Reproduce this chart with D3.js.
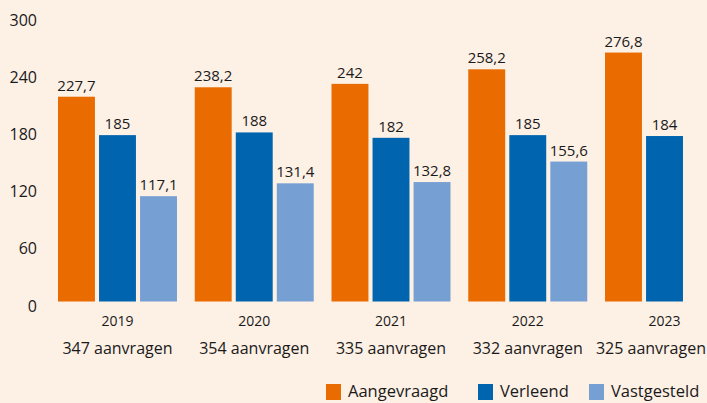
<!DOCTYPE html>
<html>
<head>
<meta charset="utf-8">
<script src="https://cdn.jsdelivr.net/npm/d3@7"></script>
<style>
  html, body { margin: 0; padding: 0; background: #fdf0e5; }
  svg { display: block; font-family: "Open Sans", sans-serif; }
</style>
</head>
<body>
<div id="chart"></div>
<script>
const WIDTH = 707;
const HEIGHT = 403;

const years = ['2019', '2020', '2021', '2022', '2023'];
const requests = ['347 aanvragen', '354 aanvragen', '335 aanvragen', '332 aanvragen', '325 aanvragen'];
const seriesNames = ['Aangevraagd', 'Verleend', 'Vastgesteld'];
const aangevraagd = [227.7, 238.2, 242, 258.2, 276.8];
const verleend = [185, 188, 182, 185, 184];
const vastgesteld = [117.1, 131.4, 132.8, 155.6, null];
const yTicks = [0, 60, 120, 180, 240, 300];

const colors = ['#ea6b00', '#0064af', '#769fd3'];
const seriesValues = [aangevraagd, verleend, vastgesteld];

const svg = d3.select('#chart').append('svg')
  .attr('width', WIDTH)
  .attr('height', HEIGHT);

const x = d3.scaleBand()
  .domain(years)
  .range([58, 724])
  .paddingInner(0.13)
  .paddingOuter(0);

const xInner = d3.scaleBand()
  .domain(seriesNames)
  .range([0, x.bandwidth()])
  .paddingInner(0.1);

const y = d3.scaleLinear()
  .domain([0, 300])
  .range([301.5, 31.7]);

// the tick labels sit on a slightly wider spacing than the bars
const yLabels = d3.scaleLinear()
  .domain([0, 300])
  .range([306, 20]);

const axis = svg.append('g')
  .attr('transform', 'translate(37, 0)')
  .call(d3.axisLeft(yLabels).tickValues(yTicks).tickSize(0).tickPadding(0));
axis.select('.domain').remove();
axis.selectAll('text')
  .attr('font-size', 16)
  .attr('font-family', '"Open Sans", sans-serif')
  .attr('fill', '#1a1a1a');

const bars = [];
years.forEach((year, i) => {
  seriesNames.forEach((name, s) => {
    const v = seriesValues[s][i];
    if (v !== null) bars.push({ year, name, s, v });
  });
});

const fmt = v => String(v).replace('.', ',');

const g = svg.append('g');

g.selectAll('rect')
  .data(bars)
  .join('rect')
  .attr('x', d => x(d.year) + xInner(d.name))
  .attr('y', d => y(d.v))
  .attr('width', xInner.bandwidth())
  .attr('height', d => y(0) - y(d.v))
  .attr('fill', d => colors[d.s]);

g.selectAll('text.value')
  .data(bars)
  .join('text')
  .attr('class', 'value')
  .attr('x', d => x(d.year) + xInner(d.name) + xInner.bandwidth() / 2)
  .attr('y', d => y(d.v) - 6)
  .attr('text-anchor', 'middle')
  .attr('font-size', 15)
  .attr('fill', '#1a1a1a')
  .text(d => fmt(d.v));

svg.selectAll('text.year')
  .data(years)
  .join('text')
  .attr('class', 'year')
  .attr('x', d => x(d) + x.bandwidth() / 2)
  .attr('y', 326)
  .attr('text-anchor', 'middle')
  .attr('font-size', 14)
  .attr('fill', '#1a1a1a')
  .text(d => d);

svg.selectAll('text.req')
  .data(requests)
  .join('text')
  .attr('class', 'req')
  .attr('y', 354)
  .attr('text-anchor', 'middle')
  .attr('font-size', 16)
  .attr('fill', '#1a1a1a')
  .text(d => d)
  .attr('x', function (d, i) {
    const c = x(years[i]) + x.bandwidth() / 2;
    const w = this.getComputedTextLength();
    return Math.min(c, WIDTH - 1 - w / 2);
  });

const legendX = [326, 478, 589];
const legend = svg.selectAll('g.legend')
  .data(seriesNames)
  .join('g')
  .attr('class', 'legend')
  .attr('transform', (d, i) => `translate(${legendX[i]}, 384)`);

legend.append('rect')
  .attr('width', 15)
  .attr('height', 16)
  .attr('fill', (d, i) => colors[i]);

legend.append('text')
  .attr('x', 22)
  .attr('y', 13)
  .attr('font-size', 16.5)
  .attr('fill', '#1a1a1a')
  .text(d => d);
</script>
</body>
</html>
